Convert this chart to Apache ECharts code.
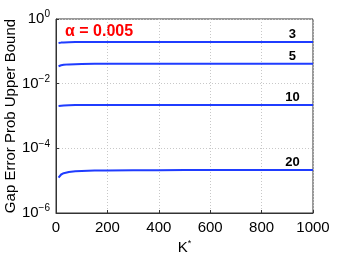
<!DOCTYPE html>
<html><head><meta charset="utf-8">
<script src="https://cdn.jsdelivr.net/npm/echarts@6/dist/echarts.min.js"></script>
<style>html,body{margin:0;padding:0;background:#fff}#c{width:346px;height:257px}</style>
</head><body><div id="c"></div>
<script>
const kValues = [10, 20, 30, 50, 75, 100, 150, 200, 300, 400, 500, 600, 700, 800, 900, 1000];
const seriesNames = ['3', '5', '10', '20'];
const bound3  = [0.180, 0.186, 0.189, 0.192, 0.193, 0.194, 0.195, 0.195, 0.195, 0.195, 0.195, 0.195, 0.195, 0.195, 0.195, 0.195];
const bound5  = [0.0345, 0.0370, 0.0385, 0.0395, 0.0402, 0.0406, 0.0410, 0.0412, 0.0413, 0.0414, 0.0414, 0.0414, 0.0414, 0.0414, 0.0414, 0.0414];
const bound10 = [0.00203, 0.00208, 0.00212, 0.00215, 0.00217, 0.00218, 0.00219, 0.00220, 0.00220, 0.00220, 0.00220, 0.00220, 0.00220, 0.00220, 0.00220, 0.00220];
const bound20 = [1.25e-5, 1.55e-5, 1.70e-5, 1.85e-5, 1.95e-5, 2.00e-5, 2.05e-5, 2.08e-5, 2.10e-5, 2.11e-5, 2.12e-5, 2.12e-5, 2.13e-5, 2.13e-5, 2.14e-5, 2.14e-5];
const labelK = 920;
const alphaText = 'α = 0.005';

const allBounds = [bound3, bound5, bound10, bound20];
const chart = echarts.init(document.getElementById('c'), null, {renderer: 'canvas'});
const font = 'Liberation Sans, Arial, Helvetica, sans-serif';

const series = allBounds.map((arr, i) => ({
  name: seriesNames[i],
  type: 'line',
  data: kValues.map((k, j) => [k, arr[j]]),
  showSymbol: false,
  smooth: false,
  lineStyle: {color: '#1f3cff', width: 2},
  itemStyle: {color: '#1f3cff'},
  z: 3,
  markPoint: {
    symbol: 'circle', symbolSize: 0,
    data: [{coord: [labelK, arr[arr.length - 1]], value: seriesNames[i]}],
    label: {show: true, position: 'top', distance: 1, formatter: seriesNames[i],
      color: '#000', fontWeight: 'bold', fontSize: 13, fontFamily: font}
  }
}));

const supFmt = v => {
  const e = Math.round(Math.log10(v));
  return '10{sup|' + (e < 0 ? '\u2212' + (-e) : e) + '}';
};

chart.setOption({
  animation: false,
  backgroundColor: '#fff',
  grid: {left: 56, right: 33, top: 19, bottom: 44, containLabel: false, outerBoundsMode: 'none',
    show: true, borderColor: '#333', borderWidth: 1, backgroundColor: 'transparent'},
  xAxis: {
    type: 'value', min: 0, max: 1000, interval: 200,
    name: 'K{sup|*}', nameLocation: 'middle', nameGap: 26, nameMoveOverlap: false,
    nameTextStyle: {fontSize: 15, fontFamily: font, color: '#000', rich: {sup: {fontSize: 9, verticalAlign: 'top', padding: [0,0,8,0], color: '#000'}}},
    axisLine: {show: true, lineStyle: {color: '#333'}},
    axisTick: {show: true, inside: true, length: 3, lineStyle: {color: '#333'}},
    axisLabel: {fontSize: 15, fontFamily: font, color: '#000', margin: 7, formatter: v => String(v)},
    splitLine: {show: true, lineStyle: {color: '#c8c8c8', type: [1, 2], width: 1}}
  },
  yAxis: {
    type: 'log', logBase: 10, min: 1e-6, max: 1, interval: 2,
    name: 'Gap Error Prob Upper Bound', nameLocation: 'middle', nameGap: 38, nameRotate: 90, nameMoveOverlap: false,
    nameTextStyle: {fontSize: 15, fontFamily: font, color: '#000'},
    axisLine: {show: true, lineStyle: {color: '#333'}},
    axisTick: {show: true, inside: true, length: 3, lineStyle: {color: '#333'}},
    minorTick: {show: false},
    minorSplitLine: {show: false},
    axisLabel: {fontSize: 15, fontFamily: font, color: '#000', margin: 6, formatter: supFmt,
      rich: {sup: {fontSize: 10, fontFamily: font, color: '#000', verticalAlign: 'top', padding: [0, 0, 9, 0]}}},
    splitLine: {show: true, lineStyle: {color: '#c8c8c8', type: [1, 2], width: 1}}
  },
  graphic: [{
    type: 'text', left: 65, top: 24,
    style: {text: alphaText, fill: '#ff0000', font: 'bold 16px ' + font}
  }],
  series: series
});
</script></body></html>
